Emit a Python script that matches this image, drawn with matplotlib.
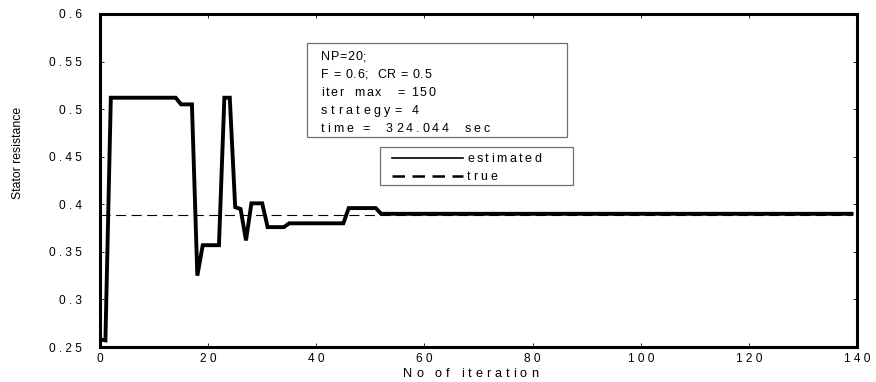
import matplotlib
matplotlib.use("Agg")
import matplotlib.pyplot as plt
from matplotlib.lines import Line2D
from matplotlib.patches import Rectangle
from matplotlib import font_manager
from matplotlib.font_manager import FontProperties

plt.rcParams['font.family'] = ['Liberation Sans', 'DejaVu Sans']

# Vertices of the estimated-parameter trace (iteration, stator resistance)
iterations = [0, 1, 2, 14, 15, 17, 18, 19, 22, 23, 24, 25, 26, 27, 28, 30,
              31, 34, 35, 45, 46, 51, 52, 139]
estimated = [0.258, 0.257, 0.512, 0.512, 0.505, 0.505, 0.325, 0.357, 0.357,
             0.512, 0.512, 0.397, 0.395, 0.362, 0.401, 0.401, 0.376, 0.376,
             0.380, 0.380, 0.396, 0.396, 0.390, 0.390]
true_iter = [0, 139]
true_value = [0.389, 0.389]

x_ticks = [0, 20, 40, 60, 80, 100, 120, 140]
x_ticklabels = ["0", "2 0", "4 0", "6 0", "8 0", "1 0 0", "1 2 0", "1 4 0"]
y_ticks = [0.25, 0.3, 0.35, 0.4, 0.45, 0.5, 0.55, 0.6]
y_ticklabels = ["0 . 2 5", "0 . 3", "0 . 3 5", "0 . 4", "0 . 4 5", "0 . 5",
                "0 . 5 5", "0 . 6"]

info_lines = ["NP=20;",
              "F = 0.6;  CR = 0.5",
              "iter  max   = 150",
              "strategy= 4",
              "time =  324.044  sec"]
# rendered width of each info line, pixels
info_widths = [45, 109, 113, 97, 168]

W, H = 876, 382
fig = plt.figure(figsize=(W / 100, H / 100), dpi=100)
ax = fig.add_axes([100 / W, 1 - 347 / H, 757 / W, 333 / H])

ax.plot(true_iter, true_value, color='black', lw=0.8, dashes=(9, 5))
ax.plot(iterations, estimated, color='black', lw=2.8, solid_joinstyle='miter')

ax.set_xlim(0, 140)
ax.set_ylim(0.25, 0.6)
ax.set_xticks(x_ticks)
ax.set_xticklabels(x_ticklabels)
ax.set_yticks(y_ticks)
ax.set_yticklabels(y_ticklabels)
ax.tick_params(direction='in', length=3, width=0.6, top=True, right=True,
               labelsize=8.6, colors='black')
ax.tick_params(axis='y', pad=13)
ax.tick_params(axis='x', pad=4)
for s in ax.spines.values():
    s.set_linewidth(2.2)

ax.set_ylabel("Stator resistance", fontsize=8.8)
ax.yaxis.set_label_coords(-0.1, 0.583)

# --- letter-spaced text helper -------------------------------------------
_fp = FontProperties(family='Liberation Sans')
_fpath = font_manager.findfont(_fp)


def advances(s, fs):
    try:
        from matplotlib.ft2font import FT2Font, LoadFlags
        font = FT2Font(_fpath)
        font.set_size(fs, 100)
        return [font.load_char(ord(c), flags=LoadFlags.NO_HINTING)
                .linearHoriAdvance / 65536 for c in s]
    except Exception:
        return [0.55 * fs * 100 / 72 for c in s]


def tracked_text(s, x, y, fs, width, zorder=6):
    """Draw s with its left end at pixel x and baseline at pixel y,
    stretched by even letter spacing to the given width."""
    adv = advances(s, fs)
    natural = sum(adv[:-1]) + adv[-1] * 0.85
    track = (width - natural) / max(len(s) - 1, 1)
    cx = x
    for c, a in zip(s, adv):
        if c != ' ':
            fig.text(cx / W, 1 - y / H, c, fontsize=fs,
                     va='baseline', ha='left', zorder=zorder)
        cx += a + track


# Parameter box
def px(x, y):
    return ((x - 100) / 757, (347 - y) / 333)


bx0, by0 = px(307, 137)
bx1, by1 = px(567, 43)
ax.add_patch(Rectangle((bx0, by0), bx1 - bx0, by1 - by0, transform=ax.transAxes,
                       facecolor='white', edgecolor='#707070', lw=0.9, zorder=5))
for i, (line, wd) in enumerate(zip(info_lines, info_widths)):
    tracked_text(line, 321, 60 + i * 17.9, 9.0, wd)

# Legend box
lx0, ly0 = px(380, 185)
lx1, ly1 = px(573, 147)
ax.add_patch(Rectangle((lx0, ly0), lx1 - lx0, ly1 - ly0, transform=ax.transAxes,
                       facecolor='white', edgecolor='#707070', lw=0.9, zorder=5))
for (ls_y, label, wd, lw, dash) in [(158, "estimated", 73, 1.2, None),
                                    (176, "true", 29, 1.8, (5, 3))]:
    a, yy = px(392, ls_y)
    b, _ = px(463, ls_y)
    ln = Line2D([a, b], [yy, yy], transform=ax.transAxes, color='black',
                lw=lw, zorder=6)
    if dash:
        ln.set_dashes(dash)
    ax.add_line(ln)
    tracked_text(label, 467, ls_y + 4, 9.0, wd)

# x-axis label
tracked_text("No of iteration", 403, 377, 9.2, 134)

fig.savefig("out.png", dpi=100)
